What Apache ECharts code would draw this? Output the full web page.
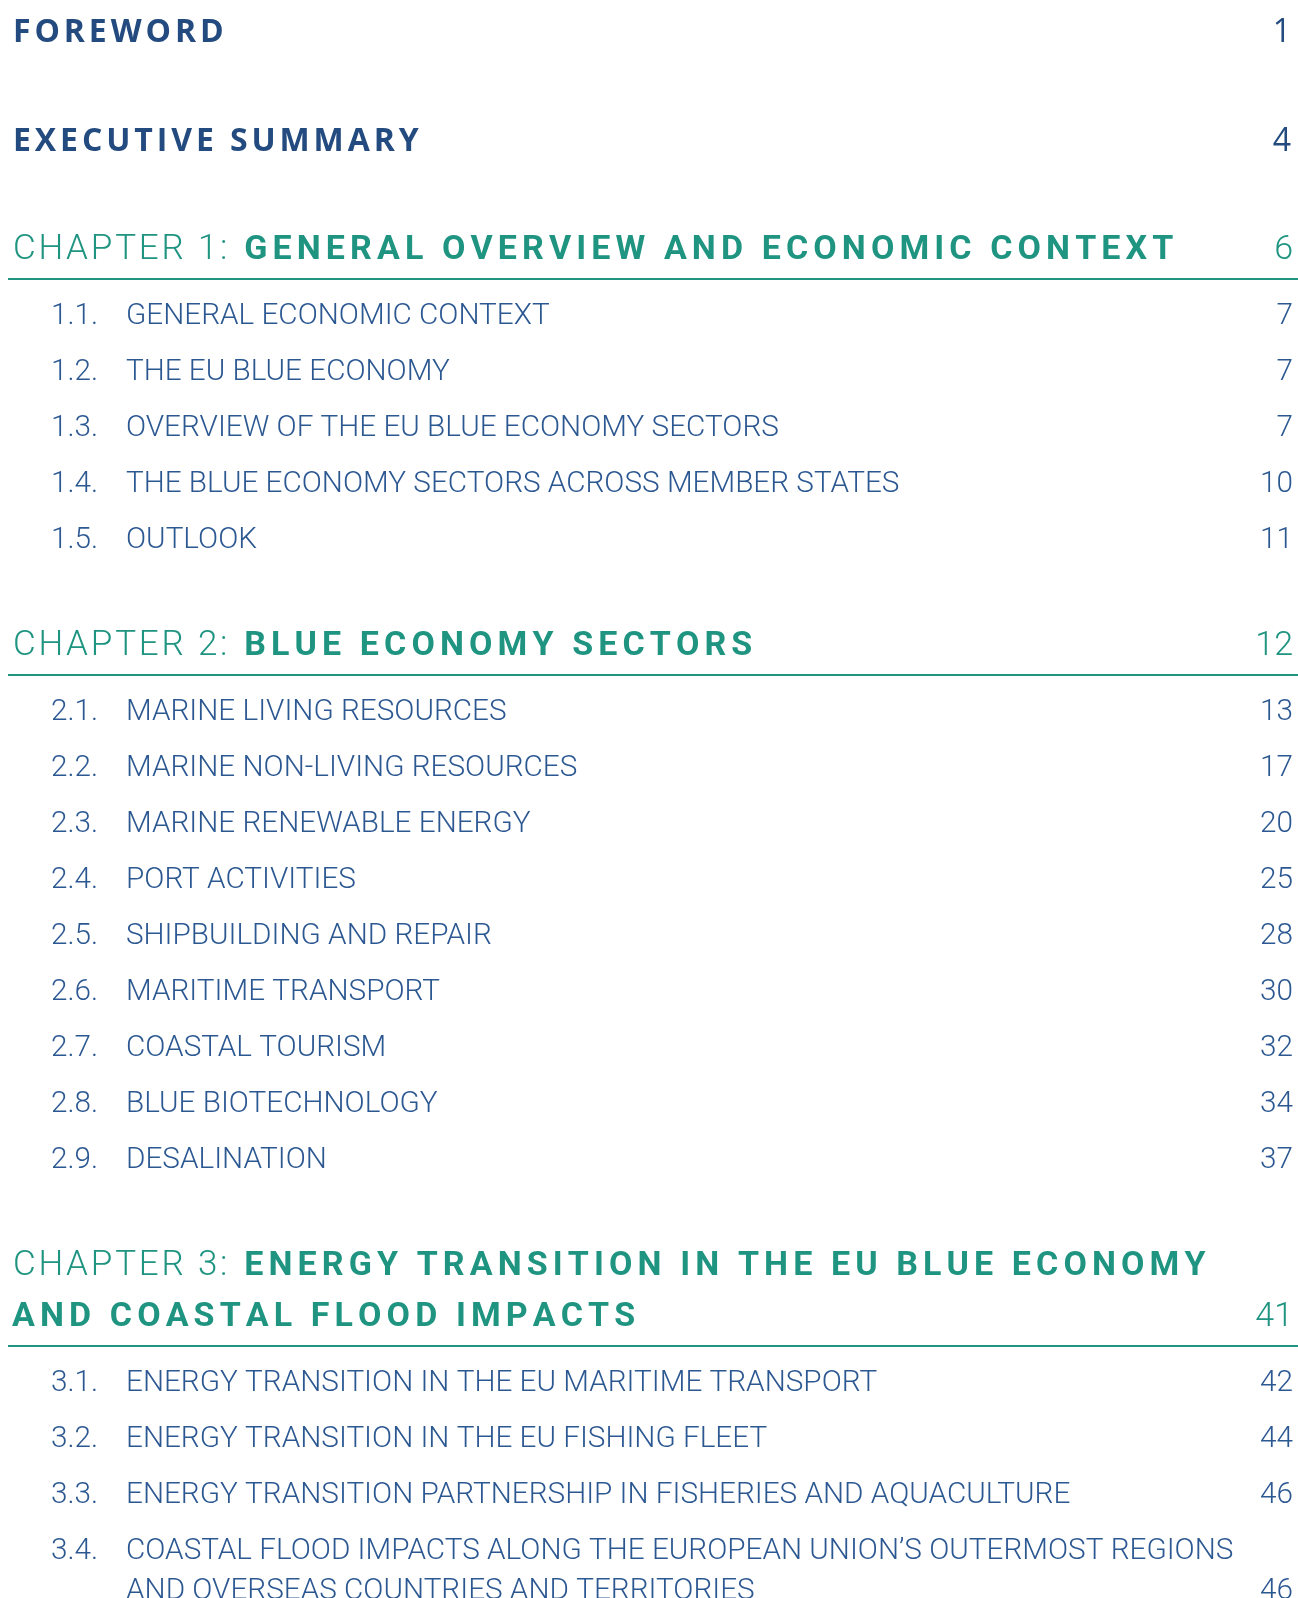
<!DOCTYPE html>
<html>
<head>
<meta charset="utf-8">
<script src="https://cdn.jsdelivr.net/npm/echarts@6/dist/echarts.min.js"></script>
<style>
  html, body { margin: 0; padding: 0; background: #fff; }
  #toc { width: 1298px; height: 1598px; }
</style>
</head>
<body>
<div id="toc"></div>
<script>
// table of contents data
const frontTitles = ['FOREWORD', 'EXECUTIVE SUMMARY'];
const frontPages = [1, 4];
const chapterLabels = ['CHAPTER 1:', 'CHAPTER 2:', 'CHAPTER 3:'];
const chapterTitles = [
  ['GENERAL OVERVIEW AND ECONOMIC CONTEXT'],
  ['BLUE ECONOMY SECTORS'],
  ['ENERGY TRANSITION IN THE EU BLUE ECONOMY', 'AND COASTAL FLOOD IMPACTS']
];
const chapterPages = [6, 12, 41];
const sectionNumbers = [
  ['1.1.', '1.2.', '1.3.', '1.4.', '1.5.'],
  ['2.1.', '2.2.', '2.3.', '2.4.', '2.5.', '2.6.', '2.7.', '2.8.', '2.9.'],
  ['3.1.', '3.2.', '3.3.', '3.4.']
];
const sectionTitles = [
  [['GENERAL ECONOMIC CONTEXT'], ['THE EU BLUE ECONOMY'], ['OVERVIEW OF THE EU BLUE ECONOMY SECTORS'],
   ['THE BLUE ECONOMY SECTORS ACROSS MEMBER STATES'], ['OUTLOOK']],
  [['MARINE LIVING RESOURCES'], ['MARINE NON-LIVING RESOURCES'], ['MARINE RENEWABLE ENERGY'],
   ['PORT ACTIVITIES'], ['SHIPBUILDING AND REPAIR'], ['MARITIME TRANSPORT'], ['COASTAL TOURISM'],
   ['BLUE BIOTECHNOLOGY'], ['DESALINATION']],
  [['ENERGY TRANSITION IN THE EU MARITIME TRANSPORT'], ['ENERGY TRANSITION IN THE EU FISHING FLEET'],
   ['ENERGY TRANSITION PARTNERSHIP IN FISHERIES AND AQUACULTURE'],
   ['COASTAL FLOOD IMPACTS ALONG THE EUROPEAN UNION\u2019S OUTERMOST REGIONS', 'AND OVERSEAS COUNTRIES AND TERRITORIES']]
];
const sectionPages = [
  [7, 7, 7, 10, 11],
  [13, 17, 20, 25, 28, 30, 32, 34, 37],
  [42, 44, 46, 46]
];

const navy = '#234b7f';
const teal = '#1f9481';
const blue = '#2c5892';
const frontFont = '700 32px "Open Sans"';
const frontPageFont = '400 32px "Open Sans"';
const labelFont = '300 35px Roboto';
const headFont = '700 34px Roboto';
const headPageFont = '300 34px Roboto';
const secFont = '300 29.7px Roboto';
const rightX = 1293;
const dy = 3.5; // cap-centre vs em-centre

const mctx = document.createElement('canvas').getContext('2d');
function measure(s, font) {
  mctx.font = font;
  return mctx.measureText(s).width;
}

const elements = [];
function plain(s, x, y, font, color, align) {
  elements.push({
    type: 'text', x: x, y: y + dy, silent: true,
    style: { text: s, font: font, fill: color, textAlign: align || 'left', textVerticalAlign: 'middle' }
  });
}
// letter-spaced text, returns end x
function spaced(s, x, y, font, color, gap) {
  let cx = x;
  for (const ch of s) {
    if (ch !== ' ') plain(ch, cx, y, font, color);
    cx += measure(ch, font) + gap;
  }
  return cx;
}

let y = 29;
frontTitles.forEach((t, i) => {
  spaced(t, 13, y, frontFont, navy, 3.9);
  plain(String(frontPages[i]), 1291, y, frontPageFont, navy, 'right');
  y += 109;
});

y = 247;
chapterLabels.forEach((lab, c) => {
  const lines = chapterTitles[c];
  lines.forEach((ln, k) => {
    let x0 = 12;
    if (k === 0) x0 = spaced(lab, 13, y, labelFont, teal, 2.8) + 14;
    spaced(ln, x0, y, headFont, teal, 5.1);
    if (k === lines.length - 1) plain(String(chapterPages[c]), rightX, y, headPageFont, teal, 'right');
    else y += 51;
  });
  const lineY = y + 32;
  elements.push({
    type: 'line', silent: true,
    shape: { x1: 8, y1: lineY, x2: 1298, y2: lineY },
    style: { stroke: teal, lineWidth: 2 }
  });
  y = lineY + 34;
  sectionNumbers[c].forEach((num, s) => {
    const tl = sectionTitles[c][s];
    plain(num, 51, y, secFont, blue);
    tl.forEach((ln, k) => {
      plain(ln, 126, y, secFont, blue);
      if (k === tl.length - 1) plain(String(sectionPages[c][s]), rightX, y, secFont, blue, 'right');
      else y += 40;
    });
    y += 56;
  });
  y += 50;
});

const chart = echarts.init(document.getElementById('toc'));
chart.setOption({
  animation: false,
  graphic: { elements: elements }
});
</script>
</body>
</html>
